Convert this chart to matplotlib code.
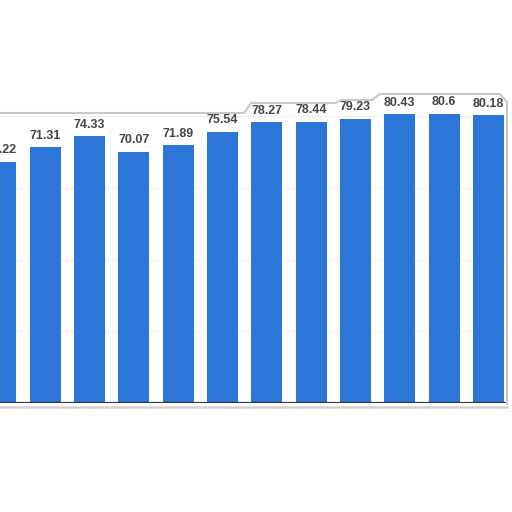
import matplotlib.pyplot as plt
from matplotlib.lines import Line2D

# values (first bar is cut off at the left edge)
values = [67.22, 71.31, 74.33, 70.07, 71.89, 75.54, 78.27, 78.44, 79.23, 80.43, 80.6, 80.18]
gridlines = [20, 40, 60, 80]

bar_color = '#2c76d8'
label_color = '#454545'

fig = plt.figure(figsize=(5.12, 5.12), dpi=100)
fig.patch.set_facecolor('white')

# axes: baseline at ~403 px from top, right edge of the cutout at ~507 px
ax = fig.add_axes([0, (512 - 403.3) / 512, 507 / 512, 403.3 / 512])
ax.set_facecolor('white')

x = list(range(len(values)))
ax.bar(x, values, width=0.70, color=bar_color, zorder=2)

for g in gridlines:
    ax.axhline(g, color='#d9d9d9', lw=0.8, ls=(0, (1, 1.5)), zorder=1)
ax.axhline(0, color='#3a3a3a', lw=1.6, zorder=3)

for xi, v in zip(x, values):
    ax.annotate('{:g}'.format(v), (xi, v), xytext=(0, 4), textcoords='offset points',
                ha='center', va='bottom', fontsize=9, fontweight='bold',
                color=label_color, family=['Liberation Sans', 'DejaVu Sans'])

ax.set_xlim(-0.0158, 11.416)
ax.set_ylim(0, 112.3)
ax.set_xticks([])
ax.set_yticks([])
for s in ax.spines.values():
    s.set_visible(False)

# soft grey edge of the pasted cutout (decoration, in figure pixels)
def px(xs, ys):
    return [a / 512 for a in xs], [1 - b / 512 for b in ys]

ex, ey = px([0, 244, 251, 335, 342, 372, 380, 500, 507, 507],
            [113, 113, 103, 103, 100, 100, 94, 94, 102, 404])
fig.add_artist(Line2D(ex, ey, color='#c8c8c8', lw=1.5, transform=fig.transFigure))
bx, by = px([0, 507], [406.5, 406.5])
fig.add_artist(Line2D(bx, by, color='#d2d2d2', lw=1.8, transform=fig.transFigure))

fig.savefig('out.png', dpi=100, facecolor='white')
